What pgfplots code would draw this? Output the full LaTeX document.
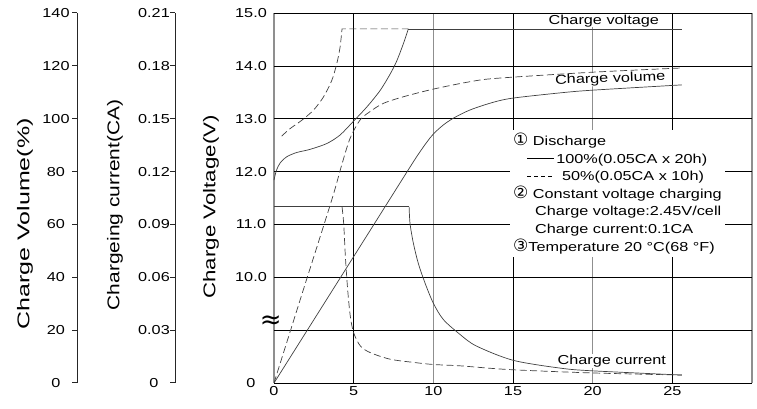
\documentclass[border=0pt]{standalone}
\usepackage{fontspec}
\setmainfont{Liberation Sans}[FakeStretch=1.25]
\newfontfamily\lblfont{Liberation Sans}
\newfontfamily\symfont{DejaVu Sans}
\usepackage{pgfplots}
\pgfplotsset{compat=1.18}
\definecolor{curve}{gray}{0.25}
\definecolor{gridgray}{gray}{0.56}
\definecolor{axgray}{gray}{0.15}

\pgfplotsset{
  base/.style={scale only axis, width=478pt, height=370pt, at={(274pt,26pt)},
    anchor=south west, xmin=0, xmax=30,
    /pgf/number format/assume math mode=true,
    tick label style={font=\fontsize{13}{15}\selectfont}},
  side/.style={scale only axis, width=5pt, height=370pt, anchor=south west,
    xmin=0, xmax=1, xtick=\empty, axis line style={draw=none}, clip=false,
    ymajorgrids, major grid style={axgray, line width=1pt},
    major tick length=0pt,
    /pgf/number format/assume math mode=true,
    tick label style={font=\fontsize{13}{15}\selectfont},
    yticklabel style={anchor=center, xshift=-16pt}},
  crv/.style={curve, line width=0.7pt},
  dsh/.style={curve, line width=0.7pt, dash pattern=on 7pt off 3.5pt},
}

\begin{document}
\begin{tikzpicture}
\path[use as bounding box] (0,0) rectangle (757pt,409pt);

% left scale: charge volume
\begin{axis}[side, at={(72pt,26pt)}, ymin=0, ymax=140,
  ytick={0,20,...,140}, yticklabels={0,20,40,60,80,100,120,140},
  ylabel={\scalebox{1.47}[1]{Charge Volume(\%)}},
  ylabel style={at={(axis description cs:-9.4,0.43)}, anchor=center,
    font=\lblfont\fontsize{17}{19}\selectfont}]
\addplot[draw=none] coordinates {(0,0) (1,140)};
\draw[axgray, line width=1pt] (rel axis cs:1,0) -- (rel axis cs:1,1);
\end{axis}

% left scale: charging current
\begin{axis}[side, at={(170pt,26pt)}, ymin=0, ymax=0.21,
  ytick={0,0.03,0.06,0.09,0.12,0.15,0.18,0.21},
  yticklabels={0,0.03,0.06,0.09,0.12,0.15,0.18,0.21},
  ylabel={\scalebox{1.23}[1]{Chargeing current(CA)}},
  ylabel style={at={(axis description cs:-11,0.481)}, anchor=center,
    font=\lblfont\fontsize{17}{19}\selectfont}]
\addplot[draw=none] coordinates {(0,0) (1,0.21)};
\draw[axgray, line width=1pt] (rel axis cs:1,0) -- (rel axis cs:1,1);
\end{axis}

% main axis: charge voltage
\begin{axis}[base, ymin=8, ymax=15, clip=false,
  ytick={8,...,15}, yticklabels={0,,10.0,11.0,12.0,13.0,14.0,15.0},
  yticklabel style={anchor=center, xshift=-23pt},
  xtick={0,10,20,30}, xticklabels={0,10,20,},
  extra x ticks={5,15,25}, extra x tick labels={5,15,25},
  extra x tick style={major grid style={black, line width=0.6pt},
    major x grid style={black, line width=0.6pt}},
  xmajorgrids, ymajorgrids,
  major x grid style={gridgray, line width=1.3pt},
  major y grid style={black, line width=0.6pt},
  major tick length=0pt,
  axis line style={draw=none},
  ylabel={\scalebox{1.31}[1]{Charge Voltage(V)}},
  ylabel style={at={(axis description cs:-0.1318,0.476)}, anchor=center,
    font=\lblfont\fontsize{17}{19}\selectfont}]

\addplot[crv, smooth, tension=0.5] coordinates {(0,11.84) (0.15,12.02) (0.38,12.16) (0.8,12.28) (1.42,12.36) (2.26,12.42) (3.31,12.53) (4.14,12.69) (4.98,12.95) (5.82,13.22) (6.65,13.53) (7.28,13.84) (7.7,14.09) (8.12,14.42) (8.43,14.70)};
\addplot[crv] coordinates {(8.43,14.70) (25.6,14.70)};
\addplot[dsh, smooth, tension=0.5] coordinates {(0.48,12.67) (1.0,12.81) (1.74,12.97) (2.47,13.16) (3.1,13.41) (3.62,13.72) (3.93,14.03) (4.14,14.34) (4.25,14.64)};
\addplot[dsh] coordinates {(4.25,14.64) (4.27,14.70) (8.43,14.70)};

\node[fill=white, inner sep=0.5pt, font=\fontsize{13}{15}\selectfont] at (axis cs:20.7,14.85) {Charge voltage};
\node[fill=white, inner sep=0.5pt, rotate=2, font=\fontsize{13}{15}\selectfont] at (axis cs:21.1,13.75) {Charge volume};
\node[fill=white, inner sep=0.5pt, font=\fontsize{13}{15}\selectfont] at (axis cs:21.2,8.416) {Charge current};
\node[inner sep=0pt, font=\symfont\fontsize{26}{26}\selectfont] at (axis cs:-0.2,9.15) {≈};

\node[anchor=north west, fill=white, inner xsep=3pt, inner ysep=3pt, align=left,
  font=\fontsize{13}{17.6}\selectfont] at (axis cs:14.81,12.79) {%
{\symfont\fontsize{17}{17.6}\selectfont ①} Discharge\\
\hspace*{14pt}\rule[0.33em]{27pt}{0.6pt}\,100\%(0.05CA x 20h)\\
\hspace*{14pt}\rule[0.33em]{4pt}{0.6pt}\hspace{3pt}\rule[0.33em]{4pt}{0.6pt}\hspace{3pt}\rule[0.33em]{4pt}{0.6pt}\hspace{3pt}\rule[0.33em]{4pt}{0.6pt}\hspace{10pt}50\%(0.05CA x 10h)\\
{\symfont\fontsize{17}{17.6}\selectfont ②} Constant voltage charging\\
\hspace*{22pt}Charge voltage:2.45V/cell\\
\hspace*{22pt}Charge current:0.1CA\\
{\symfont\fontsize{17}{17.6}\selectfont ③}Temperature 20 °C(68 °F)};
\end{axis}

% charge volume curves
\begin{axis}[base, ymin=0, ymax=140, hide axis]
\addplot[crv, smooth, tension=0.5] coordinates {(0,0) (3,28.7) (6,57.4) (8.6,82.3) (9.2,87.8) (9.6,91.2) (10.0,94.2) (10.6,97.5) (11.26,100.2) (12.3,103.3) (13.75,106.2) (15,107.8) (18,109.8) (20,110.8) (25.6,112.8)};
\addplot[dsh, smooth, tension=0.5] coordinates {(0,0) (1.8,34.5) (3.62,69.2) (4.25,82.5) (4.77,92.5) (5.4,99.5) (6.03,102.7) (6.86,105.8) (8.12,108.3) (10,111.2) (12.3,114.0) (14,115.3) (20,117.6) (25.6,119.2)};
\end{axis}

% charge current curves
\begin{axis}[base, ymin=0, ymax=0.21, hide axis]
\addplot[crv] coordinates {(0,0.1) (8.48,0.1)};
\addplot[crv, smooth, tension=0.5] coordinates {(8.48,0.1) (8.54,0.0903) (8.75,0.0792) (9.06,0.0678) (9.48,0.0567) (10,0.0453) (10.63,0.036) (11.67,0.0276) (12.7,0.0210) (15,0.0129) (18,0.0084) (20,0.0069) (25.6,0.0045)};
\addplot[dsh, smooth, tension=0.5] coordinates {(4.27,0.1) (4.375,0.0903) (4.48,0.0717) (4.625,0.0528) (4.79,0.0378) (5.0,0.0285) (5.42,0.021) (6.04,0.01725) (7.29,0.0135) (8.75,0.0117) (10,0.0105) (11.67,0.00975) (14.8,0.0076) (20,0.0057) (25.6,0.0045)};
\end{axis}
\end{tikzpicture}
\end{document}
